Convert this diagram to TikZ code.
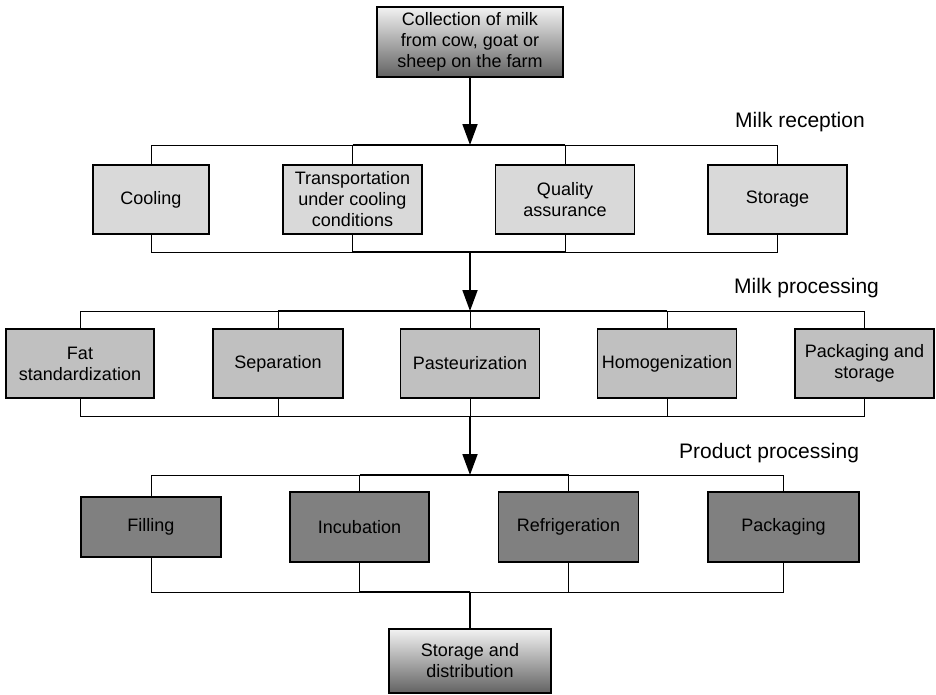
\documentclass[tikz,border=0pt]{standalone}
\usepackage{fontspec}
\setmainfont{Liberation Sans}
\usetikzlibrary{arrows.meta}
\definecolor{rowA}{HTML}{D9D9D9}
\definecolor{rowB}{HTML}{C0C0C0}
\definecolor{rowC}{HTML}{808080}
\definecolor{gtop}{HTML}{F2F2F2}
\definecolor{gbot}{HTML}{626262}
\tikzset{
  box/.style={draw=black, line width=1.2pt, inner sep=0pt, align=center,
    minimum height=69pt, minimum width=139pt, font=\fontsize{18}{21}\selectfont},
  boxA/.style={box, fill=rowA},
  boxB/.style={box, fill=rowB},
  boxC/.style={box, fill=rowC, minimum height=70pt},
  gradbox/.style={box, top color=gtop, bottom color=gbot},
  bus/.style={line width=1pt},
  innerbus/.style={line width=1.6pt},
  stem/.style={line width=1.8pt, -{Triangle[length=21pt,width=15pt]}},
  plain stem/.style={line width=1.4pt},
  stage/.style={anchor=base west, inner sep=0pt, font=\fontsize{21}{25}\selectfont}
}
\begin{document}
\begin{tikzpicture}[x=1pt, y=-1pt]
\useasboundingbox (0,0) rectangle (936,694);
% top
\node[gradbox, minimum width=186pt, minimum height=70pt] (top) at (470,42) {Collection of milk\\from cow, goat or\\sheep on the farm};
% stage labels
\node[stage] (l1) at (735,127) {Milk reception};
\node[stage] (l2) at (734,293) {Milk processing};
\node[stage] (l3) at (679,458) {Product processing};
% bus coordinates
\coordinate (b1t) at (0,145);
\coordinate (b1b) at (0,252);
\coordinate (b2t) at (0,311);
\coordinate (b2b) at (0,416);
\coordinate (b3t) at (0,475);
\coordinate (b3b) at (0,592);
\coordinate (mid) at (470,0);
% row 1
\node[boxA, minimum width=116pt] (cool) at (151,199.5) {Cooling};
\node[boxA] (trans) at (352.5,199.5) {Transportation\\under cooling\\conditions};
\node[boxA] (qual) at (565,199.5) {Quality\\assurance};
\node[boxA] (stor) at (777.5,199.5) {Storage};
% row 2
\node[boxB, minimum width=148pt] (fat) at (80,363.5) {Fat\\standardization};
\node[boxB, minimum width=130pt] (sep) at (278,363.5) {Separation};
\node[boxB] (past) at (470,363.5) {Pasteurization};
\node[boxB] (homo) at (667,363.5) {Homogenization};
\node[boxB] (pack) at (864.5,363.5) {Packaging and\\storage};
% row 3
\node[boxC, minimum width=140pt, minimum height=60pt] (fill) at (151,527) {Filling};
\node[boxC] (incu) at (359.5,527) {Incubation};
\node[boxC, minimum width=140pt] (refr) at (568.5,527) {Refrigeration};
\node[boxC, minimum width=151pt] (pkg) at (783.5,527) {Packaging};
% bottom
\node[gradbox, minimum width=162pt, minimum height=64pt] (dist) at (470,661) {Storage and\\distribution};

% row 1 buses
\draw[bus] (cool.north) -- (cool.north |- b1t) -- (stor.north |- b1t) -- (stor.north);
\draw[bus] (trans.north) -- (trans.north |- b1t);
\draw[bus] (qual.north) -- (qual.north |- b1t);
\draw[innerbus] (trans.north |- b1t) -- (qual.north |- b1t);
\draw[bus] (cool.south) -- (cool.south |- b1b) -- (stor.south |- b1b) -- (stor.south);
\draw[bus] (trans.south) -- (trans.south |- b1b);
\draw[bus] (qual.south) -- (qual.south |- b1b);
\draw[innerbus] (trans.south |- b1b) -- (qual.south |- b1b);
% row 2 buses
\draw[bus] (fat.north) -- (fat.north |- b2t) -- (pack.north |- b2t) -- (pack.north);
\draw[bus] (sep.north) -- (sep.north |- b2t);
\draw[bus] (past.north) -- (past.north |- b2t);
\draw[bus] (homo.north) -- (homo.north |- b2t);
\draw[innerbus] (sep.north |- b2t) -- (homo.north |- b2t);
\draw[bus] (fat.south) -- (fat.south |- b2b) -- (pack.south |- b2b) -- (pack.south);
\draw[bus] (sep.south) -- (sep.south |- b2b);
\draw[bus] (past.south) -- (past.south |- b2b);
\draw[bus] (homo.south) -- (homo.south |- b2b);
% row 3 buses
\draw[bus] (fill.north) -- (fill.north |- b3t) -- (pkg.north |- b3t) -- (pkg.north);
\draw[bus] (incu.north) -- (incu.north |- b3t);
\draw[bus] (refr.north) -- (refr.north |- b3t);
\draw[innerbus] (incu.north |- b3t) -- (refr.north |- b3t);
\draw[bus] (fill.south) -- (fill.south |- b3b) -- (pkg.south |- b3b) -- (pkg.south);
\draw[bus] (incu.south) -- (incu.south |- b3b);
\draw[bus] (refr.south) -- (refr.south |- b3b);
\draw[innerbus] (incu.south |- b3b) -- (mid |- b3b);

% arrows between stages
\draw[stem] (top.south) -- (mid |- b1t);
\draw[stem] (mid |- b1b) -- (mid |- b2t);
\draw[stem] (mid |- b2b) -- (mid |- b3t);
\draw[plain stem] (mid |- b3b) -- (dist.north);
\end{tikzpicture}
\end{document}
